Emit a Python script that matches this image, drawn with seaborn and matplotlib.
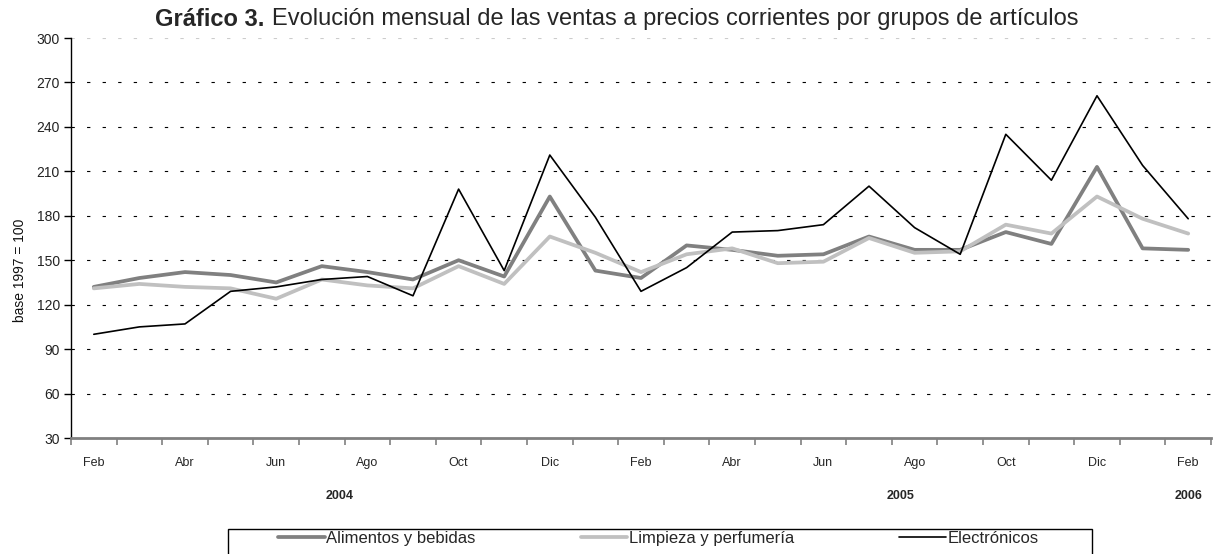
import pandas as pd
import seaborn as sns
import matplotlib.pyplot as plt
from matplotlib import font_manager
from matplotlib.patches import Rectangle
from matplotlib.ticker import FixedLocator

# Meses: feb 2004 a feb 2006
meses = ["Feb", "Mar", "Abr", "May", "Jun", "Jul", "Ago", "Sep", "Oct", "Nov", "Dic",
         "Ene", "Feb", "Mar", "Abr", "May", "Jun", "Jul", "Ago", "Sep", "Oct", "Nov", "Dic",
         "Ene", "Feb"]

alimentos = [132, 138, 142, 140, 135, 146, 142, 137, 150, 139, 193,
             143, 138, 160, 157, 153, 154, 166, 157, 157, 169, 161, 213,
             158, 157]
limpieza = [131, 134, 132, 131, 124, 137, 133, 131, 146, 134, 166,
            155, 142, 154, 158, 148, 149, 165, 155, 156, 174, 168, 193,
            178, 168]
electronicos = [100, 105, 107, 129, 132, 137, 139, 126, 198, 143, 221,
                179, 129, 145, 169, 170, 174, 200, 172, 154, 235, 204, 261,
                214, 178]

series = ["Alimentos y bebidas", "Limpieza y perfumería", "Electrónicos"]
colores = {"Alimentos y bebidas": "#808080",
           "Limpieza y perfumería": "#c0c0c0",
           "Electrónicos": "#000000"}
grosores = {"Alimentos y bebidas": 2.7,
            "Limpieza y perfumería": 2.7,
            "Electrónicos": 1.2}

anios = ["2004", "2005", "2006"]
anios_pos = [5.4, 17.7, 24.0]

idx = list(range(len(meses)))
df = pd.DataFrame({
    "idx": idx * 3,
    "valor": alimentos + limpieza + electronicos,
    "serie": [series[0]] * len(idx) + [series[1]] * len(idx) + [series[2]] * len(idx),
})

sns.set_theme(style="white")
nombres = {f.name for f in font_manager.fontManager.ttflist}
narrow = "Liberation Sans Narrow" if "Liberation Sans Narrow" in nombres else "Liberation Sans"
plt.rcParams["font.family"] = ["Liberation Sans", "DejaVu Sans"]

W, H = 1213, 554
fig = plt.figure(figsize=(W / 100, H / 100), dpi=100)
ax = fig.add_axes([71 / W, 1 - 438 / H, 1140 / W, 400 / H])

for s in series:
    sns.lineplot(data=df[df["serie"] == s], x="idx", y="valor", ax=ax,
                 color=colores[s], linewidth=grosores[s], label=s, legend=False)

ax.set_xlim(-0.5, len(meses) - 0.5)
ax.set_ylim(30, 300)
ax.set_yticks(range(30, 301, 30))
ax.set_xticks(idx[::2])
ax.set_xticklabels(meses[::2], fontsize=9, family=narrow)
ax.xaxis.set_minor_locator(FixedLocator([i - 0.5 for i in range(len(meses) + 1)]))
ax.tick_params(axis="x", which="major", bottom=True, length=0, pad=14)
ax.tick_params(axis="x", which="minor", bottom=True, length=5, width=1.2,
               color="#808080", direction="out")
ax.tick_params(axis="y", left=True, length=5, width=1, color="black", direction="out",
               labelsize=10, pad=3, labelcolor="#222222")

ax.set_xlabel("")
ax.set_ylabel("")
fig.text(20 / W, 1 - 270 / H, "base 1997 = 100", rotation=90, ha="center", va="center",
         fontsize=10, color="#111111")

ax.yaxis.grid(True, color="black", linewidth=0.8, linestyle=(0, (3, 11)))
ax.xaxis.grid(False)
gls = ax.get_ygridlines()
gls[-1].set_color("#cccccc")
gls[0].set_visible(False)

for sp in ["top", "right"]:
    ax.spines[sp].set_visible(False)
ax.spines["left"].set_color("black")
ax.spines["left"].set_linewidth(1)
ax.spines["bottom"].set_color("#808080")
ax.spines["bottom"].set_linewidth(2)

for a, p in zip(anios, anios_pos):
    ax.text(p, -0.145, a, transform=ax.get_xaxis_transform(), ha="center", va="center",
            fontsize=9, fontweight="bold")

fig.text(155 / W, 1 - 19 / H, "Gráfico 3.", ha="left", va="center", fontsize=17, fontweight="bold")
fig.text(272 / W, 1 - 19 / H,
         "Evolución mensual de las ventas a precios corrientes por grupos de artículos",
         ha="left", va="center", fontsize=17)

# caja de la leyenda
fig.patches.append(Rectangle((228 / W, -0.05), (1092 - 228) / W, 0.05 + 1 - 529 / H,
                             transform=fig.transFigure, fill=False, edgecolor="black",
                             linewidth=1))
handles, labels = ax.get_legend_handles_labels()
fig.legend(handles, labels, loc="upper left", ncol=3,
           bbox_to_anchor=(278 / W, 1 - 531 / H),
           frameon=False, handlelength=2.8, handletextpad=0.1, columnspacing=6.3,
           borderpad=0, borderaxespad=0, prop={"family": narrow, "size": 12})

fig.savefig("out.png", dpi=100)
